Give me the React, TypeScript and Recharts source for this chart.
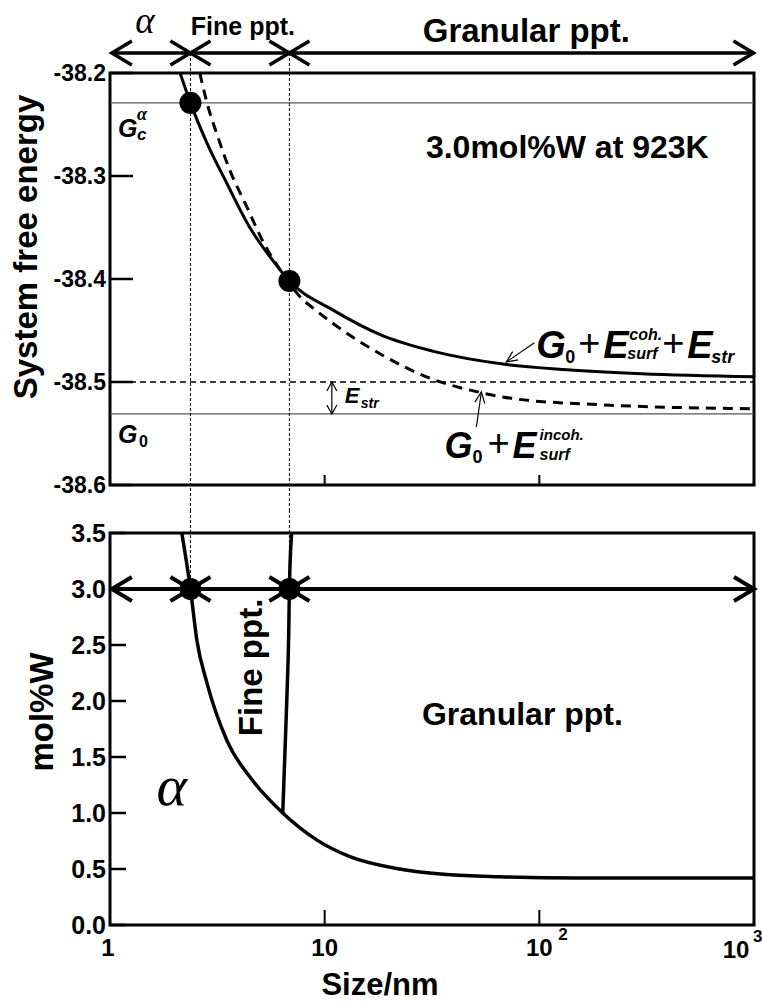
import React from 'react';
import { LineChart, Line, XAxis, YAxis, ReferenceLine, ReferenceDot, ReferenceArea } from 'recharts';

// size axis (nm), log scale, shared by both panels
const sizeDomain = [1, 1000];
const sizeTicks = [1, 10, 100, 1000];

// upper panel: system free energy
const energyTicks = [-38.6, -38.5, -38.4, -38.3, -38.2];
const cohSize = [2.12, 2.37, 2.83, 3.5, 4.48, 5.73, 6.85, 10.9, 18.6, 31.8, 70.3, 134, 300, 1000];
const cohEnergy = [-38.2, -38.229, -38.268, -38.307, -38.35, -38.382, -38.402, -38.43, -38.455, -38.47, -38.483, -38.488, -38.492, -38.495];
const incohSize = [2.62, 2.83, 3.18, 3.61, 4.34, 5.26, 5.85, 6.85, 7.65, 8.8, 10.9, 18.6, 29.8, 52.6, 74.9, 190, 1000];
const incohEnergy = [-38.2, -38.229, -38.262, -38.294, -38.33, -38.367, -38.383, -38.404, -38.417, -38.428, -38.443, -38.474, -38.495, -38.51, -38.516, -38.522, -38.526];
const gAlpha = -38.229;
const g0 = -38.531;
const gStrain = -38.5;

// phase boundaries at 3.0 mol%W
const alphaLimit = 2.37;
const fineLimit = 6.85;

// lower panel: mol%W
const molTicks = [0, 0.5, 1, 1.5, 2, 2.5, 3, 3.5];
const solSize = [2.16, 2.37, 2.54, 2.83, 3.5, 4.62, 6.38, 9.18, 13.1, 22.3, 36.9, 65.2, 150, 1000];
const solMol = [3.5, 3.0, 2.54, 2.16, 1.65, 1.29, 1.0, 0.76, 0.61, 0.5, 0.45, 0.43, 0.42, 0.42];
const fineSize = [6.38, 6.66, 6.8, 6.85, 7.02];
const fineMol = [1.0, 2.0, 2.6, 3.0, 3.5];
const alloyMol = 3.0;

const toPoints = (xs: number[], ys: number[]) => xs.map((x, i) => ({ x, y: ys[i] }));

const FONT = '"Liberation Sans", Arial, sans-serif';
const SERIF = '"Liberation Serif", "Times New Roman", serif';
const bold = { fontFamily: FONT, fontWeight: 'bold' } as const;
const boldIt = { fontFamily: FONT, fontWeight: 'bold', fontStyle: 'italic' } as const;

// line with open chevron heads, used as a ReferenceLine shape
const arrowShape = (o: { head: number; half: number; width: number; start?: boolean; end?: boolean }) => (p: any) => {
  const { x1, y1, x2, y2 } = p;
  const len = Math.hypot(x2 - x1, y2 - y1) || 1;
  const ux = (x2 - x1) / len;
  const uy = (y2 - y1) / len;
  const head = (tx: number, ty: number, s: number) => {
    const bx = tx - s * ux * o.head;
    const by = ty - s * uy * o.head;
    return `${bx - uy * o.half},${by + ux * o.half} ${tx},${ty} ${bx + uy * o.half},${by - ux * o.half}`;
  };
  return (
    <g>
      <line x1={x1} y1={y1} x2={x2} y2={y2} stroke="#000" strokeWidth={o.width} />
      {o.start && <polyline points={head(x1, y1, -1)} fill="none" stroke="#000" strokeWidth={o.width} />}
      {o.end && <polyline points={head(x2, y2, 1)} fill="none" stroke="#000" strokeWidth={o.width} />}
    </g>
  );
};

const note = (draw: (x: number, y: number) => React.ReactNode) => (p: any) => <g>{draw(p.cx, p.cy)}</g>;

const YTick = (p: any) => {
  const { x, y, payload, len, fs } = p;
  return (
    <g>
      <line x1={x} y1={y} x2={x + len} y2={y} stroke="#000" strokeWidth={2.5} />
      <text x={x - 4} y={y} dy="0.36em" textAnchor="end" fontSize={fs} {...bold}>
        {Number(payload.value).toFixed(1)}
      </text>
    </g>
  );
};

const XTick = (p: any) => {
  const { x, y, payload, len, labels } = p;
  const v = payload.value;
  const inner = v === 10 || v === 100;
  return (
    <g>
      {inner && <line x1={x} y1={y} x2={x} y2={y - len} stroke="#000" strokeWidth={2} />}
      {labels && v === 1 && <text x={x - 2} y={y + 31} textAnchor="middle" fontSize={24} {...bold}>1</text>}
      {labels && v === 10 && <text x={x} y={y + 31} textAnchor="middle" fontSize={24} {...bold}>10</text>}
      {labels && v === 100 && (
        <>
          <text x={x} y={y + 31} textAnchor="middle" fontSize={24} {...bold}>10</text>
          <text x={x + 19} y={y + 15} fontSize={17} {...bold}>2</text>
        </>
      )}
      {labels && v === 1000 && (
        <>
          <text x={x - 10} y={y + 33} textAnchor="middle" fontSize={24} {...bold}>10</text>
          <text x={x + 7} y={y + 17} fontSize={17} {...bold}>3</text>
        </>
      )}
    </g>
  );
};

const AxisTitle = (p: any) => {
  const { viewBox, tx, ty, rot, title, fs } = p;
  const x = viewBox.x + tx;
  const y = viewBox.y + ty;
  return (
    <text x={x} y={y} textAnchor="middle" fontSize={fs} {...bold} transform={rot ? `rotate(${rot} ${x} ${y})` : undefined}>
      {title}
    </text>
  );
};

const EnergyPanel = () => {
  const rowY = -38.1806;
  return (
    <LineChart width={762} height={510} margin={{ top: 73, right: 8, left: 0, bottom: 0 }}>
      <XAxis
        dataKey="x"
        type="number"
        scale="log"
        domain={sizeDomain}
        ticks={sizeTicks}
        allowDataOverflow
        height={25}
        tickSize={0}
        tickMargin={0}
        axisLine={false}
        tickLine={false}
        tick={<XTick len={10} labels={false} />}
      />
      <YAxis
        dataKey="y"
        type="number"
        domain={[-38.6, -38.2]}
        ticks={energyTicks}
        allowDataOverflow
        width={110}
        tickSize={0}
        tickMargin={0}
        axisLine={false}
        tickLine={false}
        tick={<YTick len={23} fs={23} />}
        label={<AxisTitle tx={37} ty={174} rot={-90} fs={33} title="System free energy" />}
      />
      <ReferenceArea x1={1} x2={1000} y1={-38.6} y2={-38.2} fill="none" stroke="#000" strokeWidth={3} />
      <ReferenceLine y={gAlpha} stroke="#555" strokeWidth={1.2} />
      <ReferenceLine y={g0} stroke="#555" strokeWidth={1.2} />
      <ReferenceLine y={gStrain} stroke="#000" strokeWidth={1.5} strokeDasharray="6 4" />
      <ReferenceLine segment={[{ x: alphaLimit, y: rowY }, { x: alphaLimit, y: -38.6243 }]} ifOverflow="visible" stroke="#000" strokeWidth={1} strokeDasharray="3 2" />
      <ReferenceLine segment={[{ x: fineLimit, y: rowY }, { x: fineLimit, y: -38.6243 }]} ifOverflow="visible" stroke="#000" strokeWidth={1} strokeDasharray="3 2" />

      {/* phase arrows above the panel */}
      <ReferenceLine segment={[{ x: 1.02, y: rowY }, { x: alphaLimit, y: rowY }]} ifOverflow="visible" shape={arrowShape({ head: 20, half: 12, width: 3.5, start: true, end: true })} />
      <ReferenceLine segment={[{ x: alphaLimit, y: rowY }, { x: fineLimit, y: rowY }]} ifOverflow="visible" shape={arrowShape({ head: 20, half: 12, width: 3.5, start: true, end: true })} />
      <ReferenceLine segment={[{ x: fineLimit, y: rowY }, { x: 995, y: rowY }]} ifOverflow="visible" shape={arrowShape({ head: 20, half: 12, width: 3.5, start: true, end: true })} />

      {/* E_str double arrow and pointers */}
      <ReferenceLine segment={[{ x: 10.8, y: gStrain }, { x: 10.8, y: g0 }]} ifOverflow="visible" shape={arrowShape({ head: 9, half: 5, width: 1.2, start: true, end: true })} />
      <ReferenceLine segment={[{ x: 94.8, y: -38.462 }, { x: 70.2, y: -38.4806 }]} ifOverflow="visible" shape={arrowShape({ head: 11, half: 5, width: 1.2, end: true })} />
      <ReferenceLine segment={[{ x: 50.9, y: -38.5437 }, { x: 53.7, y: -38.5097 }]} ifOverflow="visible" shape={arrowShape({ head: 11, half: 5, width: 1.2, end: true })} />

      <Line data={toPoints(incohSize, incohEnergy)} dataKey="y" type="monotone" stroke="#000" strokeWidth={3} strokeDasharray="10 7" dot={false} isAnimationActive={false} />
      <Line data={toPoints(cohSize, cohEnergy)} dataKey="y" type="monotone" stroke="#000" strokeWidth={3} dot={false} isAnimationActive={false} />

      <ReferenceDot x={alphaLimit} y={gAlpha} r={11} fill="#000" stroke="none" />
      <ReferenceDot x={fineLimit} y={-38.402} r={11} fill="#000" stroke="none" />

      {/* text notes */}
      <ReferenceDot x={1.455} y={-38.161} r={0} ifOverflow="visible" shape={note((x, y) => (
        <text x={x} y={y} textAnchor="middle" fontSize={37} fontFamily={SERIF} fontStyle="italic">α</text>
      ))} />
      <ReferenceDot x={4.16} y={-38.163} r={0} ifOverflow="visible" shape={note((x, y) => (
        <text x={x} y={y} textAnchor="middle" fontSize={25} {...bold}>Fine ppt.</text>
      ))} />
      <ReferenceDot x={87} y={-38.17} r={0} ifOverflow="visible" shape={note((x, y) => (
        <text x={x} y={y} textAnchor="middle" fontSize={33} {...bold}>Granular ppt.</text>
      ))} />
      <ReferenceDot x={135} y={-38.2825} r={0} ifOverflow="visible" shape={note((x, y) => (
        <text x={x} y={y} textAnchor="middle" fontSize={32} {...bold}>3.0mol%W at 923K</text>
      ))} />
      <ReferenceDot x={1.09} y={-38.262} r={0} ifOverflow="visible" shape={note((x, y) => (
        <>
          <text x={x} y={y} fontSize={25} {...boldIt}>G</text>
          <text x={x + 19} y={y - 17} fontSize={18} fontFamily={SERIF} fontStyle="italic" fontWeight="bold">α</text>
          <text x={x + 19} y={y + 3} fontSize={17} {...boldIt}>c</text>
        </>
      ))} />
      <ReferenceDot x={1.09} y={-38.559} r={0} ifOverflow="visible" shape={note((x, y) => (
        <>
          <text x={x} y={y} fontSize={25} {...boldIt}>G</text>
          <text x={x + 21} y={y + 4} fontSize={16} {...bold}>0</text>
        </>
      ))} />
      <ReferenceDot x={12.4} y={-38.52} r={0} ifOverflow="visible" shape={note((x, y) => (
        <>
          <text x={x} y={y} fontSize={22} {...boldIt}>E</text>
          <text x={x + 16} y={y + 5} fontSize={14} {...boldIt}>str</text>
        </>
      ))} />
      <ReferenceDot x={96.8} y={-38.4767} r={0} ifOverflow="visible" shape={note((x, y) => (
        <>
          <text x={x} y={y} fontSize={38} {...boldIt}>G</text>
          <text x={x + 29} y={y + 5} fontSize={18} {...bold}>0</text>
          <text x={x + 42} y={y - 2} fontSize={38} fontFamily={FONT}>+</text>
          <text x={x + 67} y={y} fontSize={38} {...boldIt}>E</text>
          <text x={x + 93} y={y - 18} fontSize={16} {...boldIt}>coh.</text>
          <text x={x + 91} y={y + 1} fontSize={16} {...boldIt}>surf</text>
          <text x={x + 126} y={y - 2} fontSize={38} fontFamily={FONT}>+</text>
          <text x={x + 151} y={y} fontSize={38} {...boldIt}>E</text>
          <text x={x + 175} y={y + 5} fontSize={18} {...boldIt}>str</text>
        </>
      ))} />
      <ReferenceDot x={36.2} y={-38.5738} r={0} ifOverflow="visible" shape={note((x, y) => (
        <>
          <text x={x} y={y} fontSize={36} {...boldIt}>G</text>
          <text x={x + 28} y={y + 5} fontSize={18} {...bold}>0</text>
          <text x={x + 43} y={y - 2} fontSize={38} fontFamily={FONT}>+</text>
          <text x={x + 68} y={y} fontSize={36} {...boldIt}>E</text>
          <text x={x + 95} y={y - 18} fontSize={15} {...boldIt}>incoh.</text>
          <text x={x + 95} y={y + 2} fontSize={16} {...boldIt}>surf</text>
        </>
      ))} />
    </LineChart>
  );
};

const CompositionPanel = () => (
  <LineChart width={762} height={493} margin={{ top: 23, right: 8, left: 0, bottom: 0 }}>
    <XAxis
      dataKey="x"
      type="number"
      scale="log"
      domain={sizeDomain}
      ticks={sizeTicks}
      allowDataOverflow
      height={78}
      tickSize={0}
      tickMargin={0}
      axisLine={false}
      tickLine={false}
      tick={<XTick len={15} labels />}
      label={<AxisTitle tx={270} ty={70} fs={31} title="Size/nm" />}
    />
    <YAxis
      dataKey="y"
      type="number"
      domain={[0, 3.5]}
      ticks={molTicks}
      allowDataOverflow
      width={110}
      tickSize={0}
      tickMargin={0}
      axisLine={false}
      tickLine={false}
      tick={<YTick len={16} fs={25} />}
      label={<AxisTitle tx={53} ty={179} rot={-90} fs={33} title="mol%W" />}
    />
    <ReferenceArea x1={1} x2={1000} y1={0} y2={3.5} fill="none" stroke="#000" strokeWidth={3} />
    <ReferenceLine segment={[{ x: alphaLimit, y: 3.705 }, { x: alphaLimit, y: alloyMol }]} ifOverflow="visible" stroke="#000" strokeWidth={1} strokeDasharray="3 2" />
    <ReferenceLine segment={[{ x: fineLimit, y: 3.705 }, { x: fineLimit, y: alloyMol }]} ifOverflow="visible" stroke="#000" strokeWidth={1} strokeDasharray="3 2" />

    <Line data={toPoints(solSize, solMol)} dataKey="y" type="monotone" stroke="#000" strokeWidth={3.5} dot={false} isAnimationActive={false} />
    <Line data={toPoints(fineSize, fineMol)} dataKey="y" type="monotone" stroke="#000" strokeWidth={3.5} dot={false} isAnimationActive={false} />

    <ReferenceLine segment={[{ x: 1.02, y: alloyMol }, { x: alphaLimit, y: alloyMol }]} shape={arrowShape({ head: 20, half: 12, width: 4, start: true, end: true })} />
    <ReferenceLine segment={[{ x: alphaLimit, y: alloyMol }, { x: fineLimit, y: alloyMol }]} shape={arrowShape({ head: 20, half: 12, width: 4, start: true, end: true })} />
    <ReferenceLine segment={[{ x: fineLimit, y: alloyMol }, { x: 1000, y: alloyMol }]} shape={arrowShape({ head: 20, half: 12, width: 4, start: true, end: true })} />
    <ReferenceDot x={alphaLimit} y={alloyMol} r={11} fill="#000" stroke="none" />
    <ReferenceDot x={fineLimit} y={alloyMol} r={11} fill="#000" stroke="none" />

    <ReferenceDot x={4.48} y={2.3} r={0} ifOverflow="visible" shape={note((x, y) => (
      <text x={x} y={y} dy="0.36em" textAnchor="middle" fontSize={33} {...bold} transform={`rotate(-90 ${x} ${y})`}>Fine ppt.</text>
    ))} />
    <ReferenceDot x={83.4} y={1.786} r={0} ifOverflow="visible" shape={note((x, y) => (
      <text x={x} y={y} textAnchor="middle" fontSize={32} {...bold}>Granular ppt.</text>
    ))} />
    <ReferenceDot x={1.94} y={1.071} r={0} ifOverflow="visible" shape={note((x, y) => (
      <text x={x} y={y} textAnchor="middle" fontSize={58} fontFamily={SERIF} fontStyle="italic">α</text>
    ))} />
  </LineChart>
);

export default function App() {
  return (
    <div style={{ position: 'absolute', left: 0, top: 0, width: 762, height: 1003, background: '#fff', overflow: 'hidden' }}>
      <EnergyPanel />
      <CompositionPanel />
    </div>
  );
}
